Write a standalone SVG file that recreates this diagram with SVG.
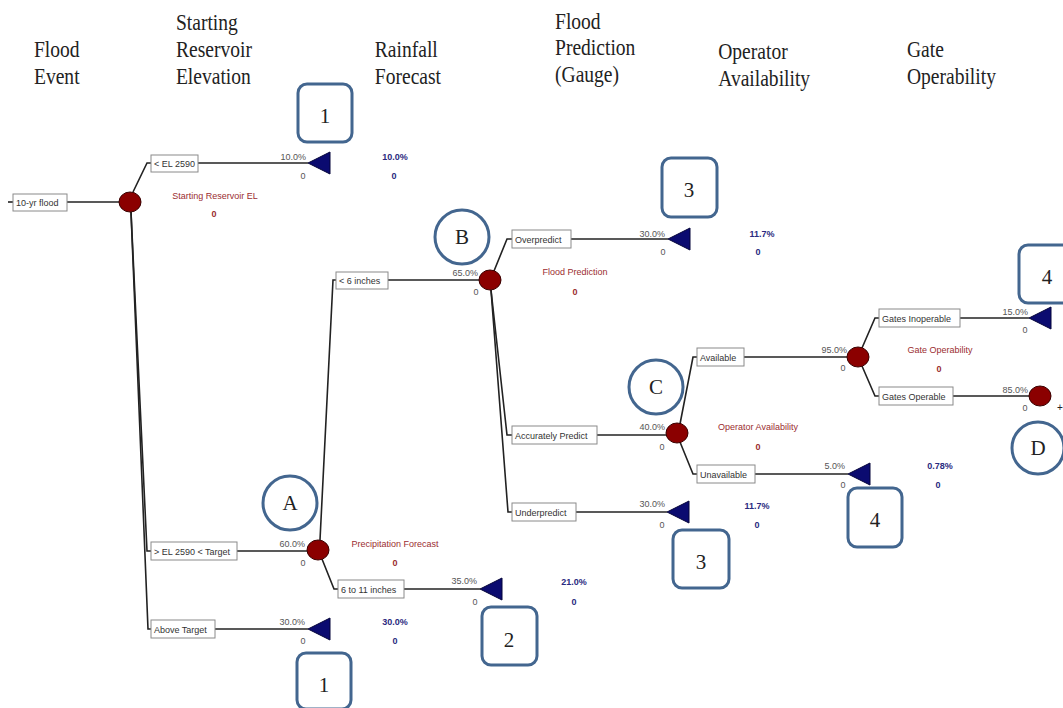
<svg xmlns="http://www.w3.org/2000/svg" width="1063" height="708" viewBox="0 0 1063 708">
<defs>
<style>
.hdr{font-family:"Liberation Serif","Times New Roman",serif;font-size:23px;fill:#222}
.box rect{fill:#fff;stroke:#8a8a8a;stroke-width:1}
.box text{font-family:"Liberation Sans",Arial,sans-serif;font-size:9px;fill:#333}
.chance{fill:#8b0000;stroke:#3a0000;stroke-width:1}
.term{fill:#0b0b70;stroke:#05053a;stroke-width:1}
.conn path{fill:none;stroke:#222;stroke-width:1.6}
.p{font-family:"Liberation Sans",Arial,sans-serif;font-size:9px;fill:#555}
.pe{text-anchor:end}
.pm{text-anchor:middle}
.v{font-family:"Liberation Sans",Arial,sans-serif;font-size:9px;font-weight:bold;fill:#2a2a80;text-anchor:middle}
.nm{font-family:"Liberation Sans",Arial,sans-serif;font-size:9px;fill:#9b2d30;text-anchor:middle}
.nmv{font-family:"Liberation Sans",Arial,sans-serif;font-size:9px;font-weight:bold;fill:#9b2d30;text-anchor:middle}
.ann rect,.ann circle{fill:#fff;stroke:#43668f;stroke-width:3}
.ann text{font-family:"Liberation Serif","Times New Roman",serif;font-size:21px;fill:#222;text-anchor:middle}
</style>
</defs>
<rect width="1063" height="708" fill="#fff"/>

<g id="headers" class="hdr" transform="scale(0.85 1)">
<text x="40" y="57">Flood</text><text x="40" y="84">Event</text>
<text x="207" y="30">Starting</text><text x="207" y="57">Reservoir</text><text x="207" y="84">Elevation</text>
<text x="441" y="57">Rainfall</text><text x="441" y="84">Forecast</text>
<text x="653" y="29">Flood</text><text x="653" y="55">Prediction</text><text x="653" y="82">(Gauge)</text>
<text x="845" y="59">Operator</text><text x="845" y="86">Availability</text>
<text x="1067" y="57">Gate</text><text x="1067" y="84">Operability</text>
</g>

<g id="connectors" class="conn">
<path d="M8,202 H13"/>
<path d="M67,202 H119"/>
<path d="M133,192 L147,163 H151"/>
<path d="M131,212 L147,551 H151"/>
<path d="M131,212 L148,629 H151"/>
<path d="M198,163 H308"/>
<path d="M237,551 H307"/>
<path d="M215,629 H308"/>
<path d="M320,540 L333,280 H336"/>
<path d="M322,559 L334,589 H338"/>
<path d="M388,280 H479"/>
<path d="M404,589 H480"/>
<path d="M494,271 L507,239 H512"/>
<path d="M491,290 L507,435 H512"/>
<path d="M491,290 L508,512 H512"/>
<path d="M571,239 H668"/>
<path d="M597,435 H666"/>
<path d="M576,512 H667"/>
<path d="M680,424 L693,357 H697"/>
<path d="M680,442 L693,474 H697"/>
<path d="M744,357 H847"/>
<path d="M755,474 H848"/>
<path d="M862,348 L875,318 H879"/>
<path d="M862,366 L875,396 H879"/>
<path d="M960,318 H1029"/>
<path d="M953,396 H1029"/>
</g>

<g id="b-flood" class="box"><rect x="13" y="194" width="54" height="17"/><text x="16" y="205.5">10-yr flood</text></g>
<g id="b-el2590" class="box"><rect x="151" y="155" width="47" height="17"/><text x="154" y="166.5">&lt; EL 2590</text></g>
<g id="b-target" class="box"><rect x="151" y="542" width="86" height="18"/><text x="154" y="554.5">&gt; EL 2590 &lt; Target</text></g>
<g id="b-above" class="box"><rect x="151" y="620" width="64" height="18"/><text x="154" y="632.5">Above Target</text></g>
<g id="b-6in" class="box"><rect x="336" y="272" width="52" height="17"/><text x="339" y="283.5">&lt; 6 inches</text></g>
<g id="b-611" class="box"><rect x="338" y="580" width="66" height="18"/><text x="341" y="592.5">6 to 11 inches</text></g>
<g id="b-over" class="box"><rect x="512" y="230" width="59" height="18"/><text x="515" y="242.5">Overpredict</text></g>
<g id="b-acc" class="box"><rect x="512" y="426" width="85" height="18"/><text x="515" y="438.5">Accurately Predict</text></g>
<g id="b-under" class="box"><rect x="512" y="503" width="64" height="18"/><text x="515" y="515.5">Underpredict</text></g>
<g id="b-avail" class="box"><rect x="697" y="348" width="47" height="18"/><text x="700" y="360.5">Available</text></g>
<g id="b-unavail" class="box"><rect x="697" y="465" width="58" height="18"/><text x="700" y="477.5">Unavailable</text></g>
<g id="b-inop" class="box"><rect x="879" y="309" width="81" height="18"/><text x="882" y="321.5">Gates Inoperable</text></g>
<g id="b-op" class="box"><rect x="879" y="387" width="74" height="18"/><text x="882" y="399.5">Gates Operable</text></g>

<g id="n-reservoir"><ellipse class="chance" cx="130" cy="202" rx="11" ry="10"/>
<text class="nm" x="215" y="199">Starting Reservoir EL</text><text class="nmv" x="214" y="217">0</text></g>
<g id="n-precip"><ellipse class="chance" cx="318" cy="550" rx="11" ry="10"/>
<text class="p pe" x="305" y="547">60.0%</text><text class="p pm" x="303" y="566">0</text>
<text class="nm" x="395" y="547">Precipitation Forecast</text><text class="nmv" x="395" y="566">0</text></g>
<g id="n-floodpred"><ellipse class="chance" cx="490" cy="280" rx="11" ry="10"/>
<text class="p pe" x="478" y="276">65.0%</text><text class="p pm" x="476" y="295">0</text>
<text class="nm" x="575" y="275">Flood Prediction</text><text class="nmv" x="575" y="295">0</text></g>
<g id="n-operator"><ellipse class="chance" cx="677" cy="433" rx="11" ry="10"/>
<text class="p pe" x="665" y="430">40.0%</text><text class="p pm" x="662" y="450">0</text>
<text class="nm" x="758" y="430">Operator Availability</text><text class="nmv" x="758" y="450">0</text></g>
<g id="n-gate"><ellipse class="chance" cx="858" cy="357" rx="11" ry="10"/>
<text class="p pe" x="847" y="353">95.0%</text><text class="p pm" x="843" y="371">0</text>
<text class="nm" x="940" y="353">Gate Operability</text><text class="nmv" x="939" y="372">0</text></g>
<g id="n-gatesop"><ellipse class="chance" cx="1040" cy="396" rx="11" ry="10"/>
<text class="p pe" x="1028" y="393">85.0%</text><text class="p pm" x="1025" y="411">0</text>
<text x="1057" y="411" font-family="Liberation Sans, Arial, sans-serif" font-size="10" fill="#222">+</text></g>

<g id="t-el2590"><path class="term" d="M308,163 L330,152 L330,174 Z"/>
<text class="p pe" x="306" y="160">10.0%</text><text class="p pm" x="303" y="179">0</text>
<text class="v" x="395" y="160">10.0%</text><text class="v" x="394" y="179">0</text></g>
<g id="t-above"><path class="term" d="M308,629 L330,618 L330,640 Z"/>
<text class="p pe" x="305" y="625">30.0%</text><text class="p pm" x="303" y="644">0</text>
<text class="v" x="395" y="625">30.0%</text><text class="v" x="395" y="644">0</text></g>
<g id="t-611"><path class="term" d="M480,589 L502,578 L502,600 Z"/>
<text class="p pe" x="477" y="584">35.0%</text><text class="p pm" x="475" y="605">0</text>
<text class="v" x="574" y="585">21.0%</text><text class="v" x="574" y="605">0</text></g>
<g id="t-over"><path class="term" d="M668,239 L690,228 L690,250 Z"/>
<text class="p pe" x="665" y="237">30.0%</text><text class="p pm" x="663" y="255">0</text>
<text class="v" x="762" y="237">11.7%</text><text class="v" x="758" y="255">0</text></g>
<g id="t-under"><path class="term" d="M667,512 L689,501 L689,523 Z"/>
<text class="p pe" x="665" y="507">30.0%</text><text class="p pm" x="662" y="528">0</text>
<text class="v" x="757" y="509">11.7%</text><text class="v" x="757" y="528">0</text></g>
<g id="t-unavail"><path class="term" d="M848,474 L870,463 L870,485 Z"/>
<text class="p pe" x="845" y="469">5.0%</text><text class="p pm" x="843" y="488">0</text>
<text class="v" x="940" y="469">0.78%</text><text class="v" x="938" y="488">0</text></g>
<g id="t-inop"><path class="term" d="M1029,318 L1051,307 L1051,329 Z"/>
<text class="p pe" x="1028" y="315">15.0%</text><text class="p pm" x="1025" y="333">0</text></g>

<g id="a-1top" class="ann"><rect x="298" y="84" width="54" height="58" rx="9"/><text x="325" y="123">1</text></g>
<g id="a-1bot" class="ann"><rect x="297" y="653" width="54" height="56" rx="9"/><text x="324" y="692">1</text></g>
<g id="a-2" class="ann"><rect x="482" y="607" width="55" height="58" rx="9"/><text x="509" y="647">2</text></g>
<g id="a-3top" class="ann"><rect x="662" y="158" width="55" height="59" rx="9"/><text x="689" y="197">3</text></g>
<g id="a-3bot" class="ann"><rect x="673" y="530" width="56" height="58" rx="9"/><text x="701" y="569">3</text></g>
<g id="a-4bot" class="ann"><rect x="848" y="488" width="54" height="59" rx="9"/><text x="875" y="527">4</text></g>
<g id="a-4top" class="ann"><rect x="1019" y="245" width="60" height="58" rx="9"/><text x="1047" y="284">4</text></g>
<g id="a-A" class="ann"><circle cx="290" cy="503" r="27"/><text x="290" y="510">A</text></g>
<g id="a-B" class="ann"><circle cx="462" cy="237" r="27"/><text x="462" y="244">B</text></g>
<g id="a-C" class="ann"><circle cx="656" cy="387" r="27"/><text x="656" y="394">C</text></g>
<g id="a-D" class="ann"><circle cx="1038" cy="448" r="26"/><text x="1038" y="455">D</text></g>
</svg>
